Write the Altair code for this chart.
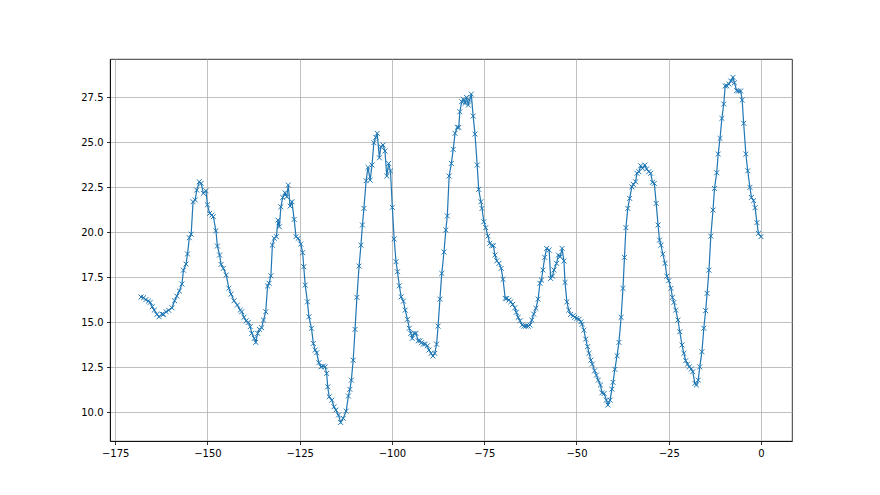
import altair as alt
import pandas as pd

hours = [
    -168.0, -167.3, -166.7, -166.0, -165.5, -164.95, -164.4, -163.7, -163.1, -162.3, -161.9, -161.2, -160.5,
    -159.6, -158.9, -158.3, -157.6, -156.9, -156.5, -155.8, -155.4, -154.9, -154.4, -153.9, -153.3, -152.9,
    -152.2, -151.7, -151.1, -150.4, -150.0, -149.4, -148.8, -148.4, -147.7, -147.3, -146.7, -146.3, -145.7,
    -144.9, -144.2, -143.6, -142.8,
    -141.9, -141.1, -140.7, -140.1, -139.5, -138.9, -138.4, -138.0, -137.3, -136.9, -136.4, -135.9, -135.3,
    -134.8, -134.2, -133.7, -133.3, -132.8, -132.4, -131.9, -131.3, -130.9, -130.5, -130.1, -129.6, -129.0,
    -128.5, -128.1, -127.6, -127.1, -126.5, -126.0, -125.4, -124.7, -124.2, -123.9, -123.5, -122.9, -122.5,
    -121.8, -121.3, -120.8, -120.4, -119.8, -119.2, -118.6, -118.1, -117.7, -117.4, -117.0, -116.3, -115.7,
    -115.2, -114.5, -113.9,
    -113.2, -112.4, -111.8, -111.4, -111.0, -110.5, -110.0, -109.5, -108.9, -108.4, -108.0, -107.6, -107.0,
    -106.5, -105.9, -105.4, -104.9, -104.4, -104.0, -103.4, -103.0, -102.4, -101.9, -101.4, -100.9, -100.4,
    -99.9, -99.4, -98.9, -98.5, -98.0, -97.5, -96.9, -96.4, -95.8, -95.3, -94.9, -94.5, -94.0, -93.5, -92.9,
    -92.4, -92.0, -91.5, -91.0, -90.4, -90.0, -89.4, -88.9, -88.4, -87.9, -87.5, -87.0, -86.5, -85.9,
    -85.4, -85.0, -84.5, -83.9, -83.4, -82.9, -82.3, -81.9, -81.6, -81.1, -80.7, -80.2, -79.8, -79.3, -79.0,
    -78.5, -78.0, -77.5, -76.9, -76.5, -75.9, -75.6, -75.1, -74.6, -74.0, -73.5, -73.0, -72.5, -72.1, -71.6,
    -71.0, -70.4, -69.9, -69.3, -68.9, -68.3, -67.8, -67.3, -66.7, -66.3, -65.8, -65.3, -64.7, -64.2, -63.7,
    -63.1, -62.6, -62.1, -61.6, -61.0, -60.4, -59.9, -59.5, -59.1, -58.6, -58.1, -57.4,
    -57.0, -56.5, -56.1, -55.4, -54.9, -54.4, -53.9, -53.4, -53.1, -52.6, -52.1, -51.6, -50.9, -50.5, -49.9,
    -49.3, -48.8, -48.5, -48.0, -47.5, -47.0, -46.6, -46.1, -45.7, -45.1, -44.6, -44.1, -43.5, -43.1, -42.5,
    -41.9, -41.5, -40.9, -40.4, -40.1, -39.6, -39.0, -38.5, -37.9, -37.4, -37.0, -36.6, -36.1, -35.6, -35.0,
    -34.6, -34.0, -33.6, -33.1, -32.6, -32.1, -31.5, -31.0, -30.4, -29.9, -29.4, -28.9,
    -28.4, -27.9, -27.5, -27.1, -26.6, -26.0, -25.5, -25.0, -24.4, -24.0, -23.6, -23.1, -22.5, -22.0, -21.4,
    -20.9, -20.4, -19.9, -19.4, -18.9, -18.5, -17.9, -17.5, -17.0, -16.6, -16.0, -15.5, -15.0, -14.6, -14.1,
    -13.6, -13.0, -12.6, -12.0, -11.6, -11.1, -10.6, -10.1, -9.7, -9.3, -8.7, -8.2, -7.6, -7.2, -6.6, -6.1,
    -5.5, -5.1, -4.7, -4.1, -3.6, -3.0, -2.6, -2.0, -1.6, -1.1, -0.7, 0.0,
]

temps = [
    16.41, 16.37, 16.26, 16.18, 16.11, 15.87, 15.68, 15.44, 15.31, 15.46, 15.44, 15.59, 15.67,
    15.81, 16.2, 16.46, 16.74, 17.13, 17.9, 18.24, 18.8, 19.7, 19.9, 21.7, 21.8, 22.35,
    22.81, 22.72, 22.17, 22.31, 21.53, 21.05, 20.96, 20.87, 20.09, 19.24, 18.74, 18.22, 18.0,
    17.63, 16.89, 16.57, 16.2,
    15.96, 15.68, 15.59, 15.28, 15.09, 15.0, 14.76, 14.39, 14.11, 13.89, 14.39, 14.61, 14.7,
    15.13, 15.59, 17.02, 17.17, 17.59, 19.29, 19.67, 19.76, 20.68, 20.31, 21.42, 21.94, 22.2,
    21.98, 22.63, 21.46, 21.7, 20.72, 19.76, 19.67, 19.35, 18.87, 18.09, 17.07, 16.14, 15.31,
    14.67, 13.83, 13.46, 13.31, 12.76, 12.53, 12.57, 12.53, 12.17, 11.42, 10.87, 10.68, 10.31,
    10.13, 9.85, 9.44,
    9.67, 10.07, 10.91, 11.28, 11.79, 12.9, 14.61, 16.39, 18.13, 19.29, 20.41, 21.33, 22.87,
    23.61, 22.9, 23.74, 24.98, 25.28, 25.5, 24.14, 24.76, 24.85, 24.52, 23.13, 23.83, 23.41,
    21.39, 19.63, 18.37, 17.81, 17.03, 16.42, 16.18, 15.68, 15.17, 14.67, 14.39, 14.11, 14.39, 14.39, 13.98,
    13.98, 13.87, 13.79, 13.79, 13.7, 13.46, 13.28, 13.13, 13.28, 13.79, 14.79, 16.29, 17.72, 18.91,
    20.13, 20.91, 23.13, 23.83, 24.61, 25.5, 25.83, 25.83, 26.7, 27.26, 27.39, 27.17, 27.5, 27.07, 27.35,
    27.68, 26.46, 25.46, 23.74, 22.39, 21.7, 21.33, 20.59, 20.26, 19.79, 19.39, 19.26, 19.26, 18.74, 18.42,
    18.28, 18.0, 17.39, 16.33, 16.33, 16.24, 16.14, 16.0, 15.81, 15.56, 15.28, 15.09, 14.85, 14.79, 14.79,
    14.79, 14.85, 15.13, 15.46, 15.78, 16.29, 17.17, 17.35, 17.91, 18.61, 19.11, 19.02,
    17.44, 17.57, 17.91, 18.28, 18.74, 18.65, 19.11, 18.41, 17.22, 16.14, 15.68, 15.44, 15.37, 15.28, 15.22,
    15.17, 15.03, 14.89, 14.57, 14.07, 13.65, 13.28, 12.9, 12.68, 12.31, 12.07, 11.79, 11.52, 11.09, 11.05,
    10.68, 10.41, 10.68, 11.29, 11.67, 12.39, 13.15, 13.89, 15.28, 16.89, 18.61, 20.26, 21.33, 21.89, 22.53,
    22.67, 22.81, 23.28, 23.37, 23.7, 23.56, 23.74, 23.52, 23.37, 23.28, 22.78, 22.72,
    21.61, 20.41, 19.57, 19.29, 18.79, 18.28, 17.57, 17.31, 16.89, 16.39, 16.11, 15.68, 15.13, 14.48, 13.74,
    13.28, 12.87, 12.68, 12.53, 12.41, 12.26, 11.61, 11.52, 11.79, 12.53, 13.37, 14.67, 15.65, 16.61, 17.9,
    19.79, 21.24, 22.44, 23.31, 24.35, 25.22, 26.33, 27.13, 28.13, 28.14, 28.24, 28.41, 28.61, 28.31, 27.87, 27.85,
    27.85, 27.35, 26.06, 24.35, 23.42, 22.5, 21.94, 21.76, 21.37, 20.54, 19.94, 19.76,
]

x_ticks = [-175, -150, -125, -100, -75, -50, -25, 0]
y_ticks = [10.0, 12.5, 15.0, 17.5, 20.0, 22.5, 25.0, 27.5]

df = pd.DataFrame({"t": hours, "v": temps})

xs = alt.Scale(domain=[-176.4, 8.4], nice=False, zero=False)
ys = alt.Scale(domain=[8.41, 29.63], nice=False, zero=False)

x_enc = alt.X("t:Q", scale=xs, axis=alt.Axis(values=x_ticks, format="d", title=None))
y_enc = alt.Y("v:Q", scale=ys, axis=alt.Axis(values=y_ticks, format=".1f", title=None))

line = alt.Chart(df).mark_line(color="#1f77b4", strokeWidth=1.2).encode(x=x_enc, y=y_enc)
pts = alt.Chart(df).mark_point(
    shape="M-1,-1L1,1M-1,1L1,-1", size=24, filled=False, color="#1f77b4", strokeWidth=1, opacity=1
).encode(x=x_enc, y=y_enc)

chart = (
    alt.layer(line, pts)
    .properties(
        width=682,
        height=382,
        autosize=alt.AutoSizeParams(type="none"),
        padding={"left": 102, "top": 51, "right": 30, "bottom": 40},
        background="white",
    )
    .configure_view(stroke="black", strokeWidth=0.8)
    .configure_axis(
        grid=True,
        gridColor="#b0b0b0",
        gridWidth=0.8,
        domainColor="black",
        domainWidth=0.8,
        tickColor="black",
        tickWidth=0.8,
        tickSize=3.5,
        labelFont="DejaVu Sans",
        labelFontSize=10,
        labelColor="black",
        labelPadding=3.5,
    )
)

chart.save("out.html", embed_options={"renderer": "svg", "actions": False})
